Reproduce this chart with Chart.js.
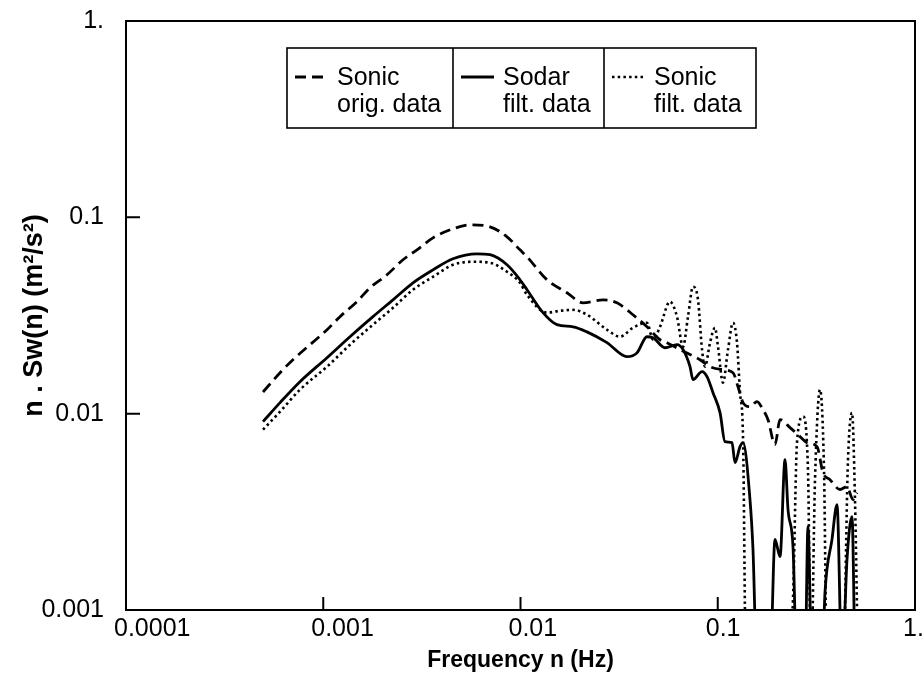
<!DOCTYPE html>
<html><head><meta charset="utf-8">
<script src="https://cdn.jsdelivr.net/npm/chart.js@4.4.1/dist/chart.umd.min.js"></script>
<style>html,body{margin:0;padding:0;background:#fff;}canvas{display:block;}</style>
</head><body>
<canvas id="c" width="922" height="683"></canvas>
<script>
// ---- data ----
const xTickValues = [0.0001, 0.001, 0.01, 0.1, 1];
const xTickLabels = ['0.0001', '0.001', '0.01', '0.1', '1.'];
const yTickValues = [0.001, 0.01, 0.1, 1];
const yTickLabels = ['0.001', '0.01', '0.1', '1.'];
const xTitle = 'Frequency n (Hz)';
const yTitle = 'n . Sw(n) (m²/s²)';
const seriesNames = ['Sonic orig. data', 'Sodar filt. data', 'Sonic filt. data'];
const legendLines = [['Sonic', 'orig. data'], ['Sodar', 'filt. data'], ['Sonic', 'filt. data']];

const sonicOrigFreq = [0.000495,0.000604,0.000702,0.000857,0.001045,0.001216,0.001483,0.001726,0.002105,0.002537,0.002987,0.0036,0.004548,0.005546,0.0070,0.008544,0.00994,0.01079,0.01362,0.01721,0.02075,0.02619,0.03085,0.03718,0.04378,0.05095,0.05528,0.06436,0.0813,0.0914,0.1063,0.1195,0.1267,0.1343,0.1457,0.1581,0.1696,0.1798,0.1951,0.2069,0.2324,0.2612,0.2835,0.3186,0.3416,0.3708,0.4167,0.4522,0.485,0.508];
const sonicOrigVal = [0.0129,0.01617,0.01883,0.02245,0.02676,0.0312,0.0372,0.0438,0.0510,0.0608,0.0683,0.0786,0.0874,0.0916,0.0895,0.0796,0.0683,0.0630,0.0481,0.0413,0.0367,0.0380,0.0367,0.0319,0.0277,0.0238,0.0230,0.0212,0.01883,0.01735,0.01675,0.01617,0.01372,0.01138,0.01085,0.01151,0.01048,0.00932,0.00696,0.00932,0.00849,0.00764,0.00712,0.00679,0.00501,0.00461,0.00411,0.00425,0.00365,0.00396];

const sodarFreq = [0.000495,0.000604,0.000762,0.001045,0.001366,0.001787,0.002257,0.002851,0.0036,0.004548,0.006018,0.0070,0.008544,0.00994,0.01079,0.0130,0.01531,0.01846,0.02173,0.02745,0.03467,0.03896,0.04378,0.04696,0.05402,0.06214,0.06666,0.07233,0.07489,0.08322,0.08822,0.09461,0.1027,0.1088,0.1181,0.1223,0.1297,0.1343,0.1457,0.1509,0.1581,0.184,0.1951,0.2069,0.2193,0.2271,0.2407,0.2522,0.2769,0.2867,0.3004,0.3377,0.3497,0.3795,0.4024,0.4265,0.4522,0.4793,0.4963];
const sodarVal = [0.00911,0.01138,0.01455,0.01928,0.02465,0.0312,0.0380,0.0464,0.0540,0.0615,0.0652,0.0645,0.0573,0.0481,0.0428,0.0327,0.0284,0.0277,0.0261,0.0230,0.0195,0.0204,0.02465,0.02437,0.02167,0.02245,0.0212,0.01735,0.01489,0.01636,0.01543,0.01279,0.01012,0.0072,0.00712,0.00563,0.00679,0.00712,0.00365,0.00203,0.0005,0.0005,0.00229,0.00187,0.00583,0.00325,0.0021,0.0005,0.0005,0.00266,0.0005,0.0005,0.00123,0.00229,0.00344,0.0005,0.00181,0.00299,0.0005];

const sonicFiltFreq = [0.000495,0.000604,0.000762,0.001045,0.001366,0.001787,0.002257,0.002851,0.0036,0.004548,0.005743,0.0070,0.008544,0.00994,0.01079,0.01362,0.01586,0.01846,0.02173,0.02745,0.03194,0.03718,0.04378,0.04696,0.05095,0.05726,0.06214,0.06666,0.07066,0.07489,0.07943,0.08322,0.08617,0.0914,0.09683,0.1003,0.1063,0.1127,0.1195,0.1252,0.1297,0.1343,0.1391,0.2271,0.2407,0.2522,0.2705,0.2867,0.297,0.3112,0.3299,0.3457,0.3579,0.4315,0.4574,0.4793,0.4963,0.5141];
const sonicFiltVal = [0.00829,0.01024,0.01325,0.01735,0.02245,0.0284,0.0346,0.0428,0.0498,0.0573,0.0594,0.0587,0.0528,0.0464,0.0403,0.0327,0.0334,0.0338,0.0319,0.02676,0.02465,0.0274,0.02905,0.0238,0.0277,0.0372,0.0312,0.02193,0.0312,0.0443,0.0380,0.0212,0.01735,0.0230,0.0274,0.02193,0.01438,0.0212,0.02905,0.0230,0.01279,0.00764,0.0005,0.0005,0.00113,0.00712,0.00966,0.00519,0.0005,0.00461,0.01325,0.00519,0.0005,0.0005,0.00583,0.01012,0.00365,0.0005];

// ---- build ----
const pts = (fs, vs) => fs.map((f, i) => ({x: f, y: vs[i]}));
const FONT = '"Liberation Sans", Arial, sans-serif';

const framePlugin = {
  id: 'framePlugin',
  beforeDraw(chart) {
    const {ctx, width, height} = chart;
    ctx.save(); ctx.fillStyle = '#fff'; ctx.fillRect(0, 0, width, height); ctx.restore();
  },
  afterDatasetsDraw(chart) {
    const {ctx, chartArea: a, scales: {x, y}} = chart;
    ctx.save();
    ctx.strokeStyle = '#000';
    ctx.lineWidth = 2;
    ctx.setLineDash([]);
    ctx.strokeRect(a.left, a.top, a.right - a.left, a.bottom - a.top);
    ctx.beginPath();
    xTickValues.forEach(v => { const px = x.getPixelForValue(v); ctx.moveTo(px, a.bottom); ctx.lineTo(px, a.bottom - 13); });
    yTickValues.forEach(v => { const py = y.getPixelForValue(v); ctx.moveTo(a.left, py); ctx.lineTo(a.left + 14, py); });
    ctx.stroke();

    // legend table
    const lg = {left: 287, top: 48, height: 80, cells: [166, 151, 152]};
    const total = lg.cells.reduce((s, c) => s + c, 0);
    ctx.fillStyle = '#fff';
    ctx.fillRect(lg.left, lg.top, total, lg.height);
    ctx.lineWidth = 1.6;
    ctx.strokeRect(lg.left, lg.top, total, lg.height);
    let cx = lg.left;
    chart.data.datasets.forEach((ds, i) => {
      if (i > 0) {
        ctx.beginPath(); ctx.setLineDash([]); ctx.lineWidth = 1.6;
        ctx.moveTo(cx, lg.top); ctx.lineTo(cx, lg.top + lg.height); ctx.stroke();
      }
      ctx.save();
      ctx.setLineDash(ds.borderDash || []);
      ctx.lineWidth = ds.borderWidth;
      ctx.beginPath(); ctx.moveTo(cx + 8, lg.top + 29); ctx.lineTo(cx + 41, lg.top + 29); ctx.stroke();
      ctx.restore();
      ctx.fillStyle = '#000';
      ctx.font = '25px ' + FONT;
      ctx.textAlign = 'left';
      ctx.textBaseline = 'alphabetic';
      ctx.fillText(legendLines[i][0], cx + 50, lg.top + 37);
      ctx.fillText(legendLines[i][1], cx + 50, lg.top + 64);
      cx += lg.cells[i];
    });
    ctx.restore();
  }
};

new Chart(document.getElementById('c'), {
  type: 'line',
  data: {
    datasets: [
      {label: seriesNames[0], data: pts(sonicOrigFreq, sonicOrigVal), borderColor: '#000', borderWidth: 2.8, borderDash: [11, 6], pointRadius: 0, fill: false, cubicInterpolationMode: 'monotone'},
      {label: seriesNames[1], data: pts(sodarFreq, sodarVal), borderColor: '#000', borderWidth: 2.8, borderDash: [], pointRadius: 0, fill: false, cubicInterpolationMode: 'monotone'},
      {label: seriesNames[2], data: pts(sonicFiltFreq, sonicFiltVal), borderColor: '#000', borderWidth: 2.6, borderDash: [2.5, 3.2], pointRadius: 0, fill: false, cubicInterpolationMode: 'monotone'}
    ]
  },
  options: {
    responsive: false,
    animation: false,
    devicePixelRatio: 1,
    layout: {padding: {left: 0, top: 21, right: 7, bottom: 0}},
    plugins: {legend: {display: false}, tooltip: {enabled: false}},
    scales: {
      x: {
        type: 'logarithmic', min: 0.0001, max: 1, position: 'bottom',
        afterBuildTicks: s => { s.ticks = xTickValues.map(v => ({value: v})); },
        afterFit: s => { s.height = 73; s.paddingLeft = 0; s.paddingRight = 0; },
        grid: {display: false}, border: {display: false},
        ticks: {callback: (v, i) => xTickLabels[i], align: 'start', labelOffset: -12, padding: -4, maxRotation: 0, minRotation: 0, autoSkip: false, color: '#000', font: {family: FONT, size: 25}},
        title: {display: true, text: xTitle, color: '#000', font: {family: FONT, size: 23, weight: 'bold'}, padding: {top: 0, bottom: 9}}
      },
      y: {
        type: 'logarithmic', min: 0.001, max: 1, position: 'left',
        afterBuildTicks: s => { s.ticks = yTickValues.map(v => ({value: v})); },
        afterFit: s => { s.width = 126; s.paddingTop = 0; s.paddingBottom = 0; },
        grid: {display: false}, border: {display: false},
        ticks: {callback: (v, i) => yTickLabels[i], padding: 14, autoSkip: false, color: '#000', font: {family: FONT, size: 25}},
        title: {display: true, text: yTitle, color: '#000', font: {family: FONT, size: 27, weight: 'bold'}, padding: {top: 18, bottom: 0}}
      }
    }
  },
  plugins: [framePlugin]
});
</script>
</body></html>
